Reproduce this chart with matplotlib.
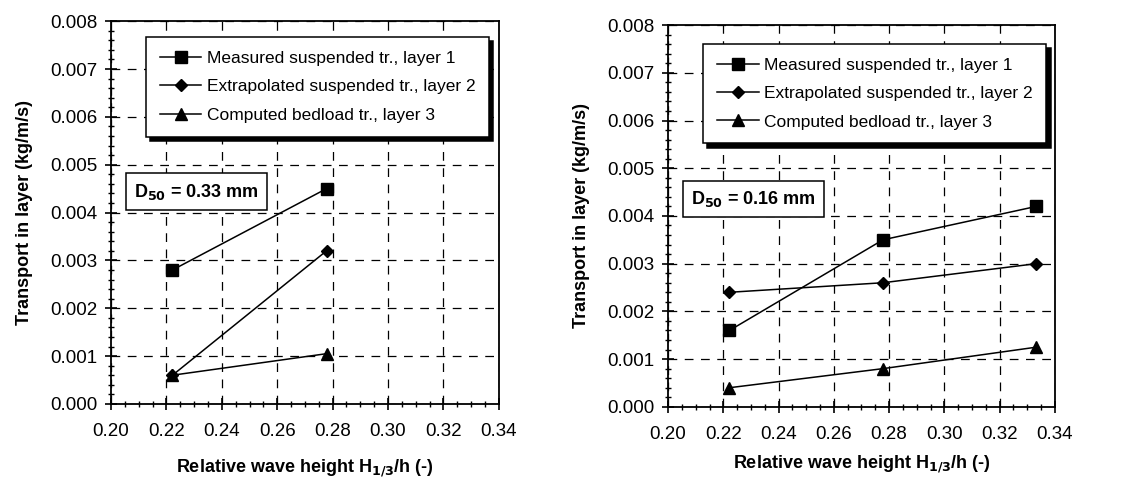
import matplotlib
matplotlib.use("Agg")
import matplotlib.pyplot as plt
from matplotlib.ticker import MultipleLocator, FormatStrFormatter

plt.rcParams['font.family'] = ['Liberation Sans', 'DejaVu Sans']

x_left = [0.2222, 0.2778]
meas_left = [0.0028, 0.0045]
extr_left = [0.0006, 0.0032]
comp_left = [0.0006, 0.00105]

x_right = [0.2222, 0.2778, 0.3333]
meas_right = [0.0016, 0.0035, 0.0042]
extr_right = [0.0024, 0.0026, 0.0030]
comp_right = [0.0004, 0.0008, 0.00125]

labels = ["Measured suspended tr., layer 1",
          "Extrapolated suspended tr., layer 2",
          "Computed bedload tr., layer 3"]
d50_labels = ["0.33", "0.16"]

fig = plt.figure(figsize=(11.21, 4.82), dpi=100)
ax1 = fig.add_axes([0.099, 0.162, 0.346, 0.794])
ax2 = fig.add_axes([0.596, 0.156, 0.345, 0.792])

cfg = [(ax1, x_left, meas_left, extr_left, comp_left, d50_labels[0], (0.975, 0.958), 0.555, 12),
       (ax2, x_right, meas_right, extr_right, comp_right, d50_labels[1], (0.978, 0.950), 0.545, 7)]

for ax, x, m, e, c, d, anchor, dy, lp in cfg:
    ax.plot(x, m, '-', color='black', lw=1.1, marker='s', ms=8.5, label=labels[0])
    ax.plot(x, e, '-', color='black', lw=1.1, marker='D', ms=6, label=labels[1])
    ax.plot(x, c, '-', color='black', lw=1.1, marker='^', ms=8, label=labels[2])
    ax.set_xlim(0.20, 0.34)
    ax.set_ylim(0.0, 0.008)
    ax.xaxis.set_major_locator(MultipleLocator(0.02))
    ax.xaxis.set_minor_locator(MultipleLocator(0.005))
    ax.yaxis.set_major_locator(MultipleLocator(0.001))
    ax.yaxis.set_minor_locator(MultipleLocator(0.0002))
    ax.xaxis.set_major_formatter(FormatStrFormatter('%.2f'))
    ax.yaxis.set_major_formatter(FormatStrFormatter('%.3f'))
    ax.grid(True, which='major', color='black', ls=(0, (7, 6)), lw=0.9)
    ax.tick_params(which='both', direction='inout', labelsize=13.5, color='black')
    ax.tick_params(which='major', length=8, width=1.2)
    ax.tick_params(which='minor', length=5, width=1.0)
    ax.tick_params(axis='x', pad=10)
    ax.tick_params(axis='y', pad=6)
    for s in ax.spines.values():
        s.set_linewidth(1.3)
    ax.set_xlabel("Relative wave height H$_{\\mathbf{1/3}}$/h (-)", fontsize=13, fontweight='bold', labelpad=lp)
    ax.set_ylabel("Transport in layer (kg/m/s)", fontsize=13, fontweight='bold', labelpad=12)
    leg = ax.legend(loc='upper right', bbox_to_anchor=anchor, fontsize=12.5,
                    frameon=True, fancybox=False,
                    shadow={'color': 'black', 'alpha': 1.0, 'ox': 3, 'oy': -3},
                    edgecolor='black',
                    framealpha=1, borderpad=0.8, labelspacing=0.75, handlelength=2.4,
                    handletextpad=0.3, borderaxespad=0.0)
    leg.get_frame().set_linewidth(1.1)
    ax.text(0.06, dy, "D$_{\\mathbf{50}}$ = " + d + " mm", transform=ax.transAxes,
            fontsize=13, fontweight='bold', va='center', ha='left',
            bbox=dict(boxstyle='square,pad=0.45', fc='white', ec='black', lw=1.1))

fig.savefig("out.png", dpi=100, facecolor='white')
